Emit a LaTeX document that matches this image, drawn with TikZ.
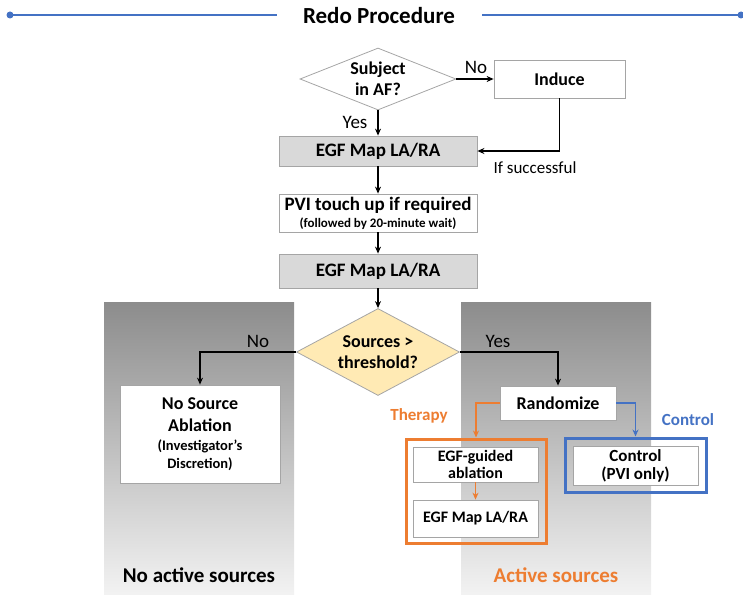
\documentclass[tikz,border=0pt]{standalone}
\usepackage{fontspec}
\setmainfont{Carlito}
\usetikzlibrary{shapes.geometric,arrows.meta}
\definecolor{lineblue}{RGB}{68,114,196}
\definecolor{myorange}{RGB}{237,125,49}
\definecolor{myyellow}{RGB}{255,234,180}
\definecolor{boxgray}{RGB}{217,217,217}
\definecolor{bordergray}{RGB}{165,165,165}
\tikzset{
  box/.style={draw=bordergray, line width=0.8pt, fill=white, align=center, inner sep=2pt, font=\fontsize{18}{21}\selectfont\bfseries},
  graybox/.style={box, fill=boxgray, font=\fontsize{19}{22}\selectfont\bfseries},
  decision/.style={diamond, draw=bordergray, line width=0.8pt, align=center, inner sep=0pt, font=\fontsize{18}{21}\selectfont\bfseries},
  arr/.style={-{Stealth[length=7pt,width=6pt]}, line width=1.1pt, black},
  oarr/.style={-{Stealth[length=7pt,width=6pt]}, line width=1.1pt, myorange},
  barr/.style={-{Stealth[length=7pt,width=6pt]}, line width=1.1pt, lineblue},
  lbl/.style={font=\fontsize{19}{22}\selectfont},
  panel/.style={top color=black!45, bottom color=black!5},
  frame/.style={draw, line width=3pt, inner sep=0pt},
}
\begin{document}
\begin{tikzpicture}[x=1pt,y=-1pt]
\useasboundingbox (0,0) rectangle (743,594);
% title
\node[font=\fontsize{23}{27}\selectfont\bfseries] (title) at (379,16) {Redo Procedure};
\coordinate (tl) at (10,15);
\coordinate (tr) at (741,15);
\fill[lineblue] (tl) circle (3.5pt);
\fill[lineblue] (tr) circle (3.5pt);
\draw[lineblue, line width=2.2pt] (tl) -- (277,15);
\draw[lineblue, line width=2.2pt] (482,15) -- (tr);
% panels
\fill[panel] (104,302) rectangle (294,594);
\fill[panel] (461,302) rectangle (651,594);
% top part
\node[decision, minimum width=156pt, minimum height=62pt, aspect=2.5] (d1) at (378,79) {Subject\\in AF?};
\node[box, minimum width=131pt, minimum height=38pt] (induce) at (559.5,79) {Induce};
\node[graybox, minimum width=198pt, minimum height=30pt] (egf1) at (378,151) {EGF Map LA/RA};
\node[box, minimum width=198pt, minimum height=38pt, font=\fontsize{19}{19}\selectfont\bfseries] (pvi) at (378,213)
  {PVI touch up if required\\[-2pt]{\fontsize{13}{13}\selectfont (followed by 20-minute wait)}};
\node[graybox, minimum width=198pt, minimum height=34pt] (egf2) at (378,271) {EGF Map LA/RA};
\node[decision, fill=myyellow, minimum width=163pt, minimum height=87pt, aspect=1.87] (d2) at (378,352) {Sources >\\threshold?};
\node[box, minimum width=160pt, minimum height=98pt, font=\fontsize{18}{22}\selectfont\bfseries] (nosrc) at (200,434)
  {No Source\\Ablation\\[-3pt]{\fontsize{14.5}{17}\selectfont (Investigator’s}\\[-4pt]{\fontsize{14.5}{17}\selectfont Discretion)}};
\node[box, minimum width=116pt, minimum height=34pt] (rand) at (558,403) {Randomize};
\node[frame, draw=myorange, minimum width=140pt, minimum height=104pt] (tframe) at (476,491) {};
\node[box, minimum width=125pt, minimum height=35pt, font=\fontsize{16}{17}\selectfont\bfseries] (egfg) at (475.5,464.5) {EGF-guided\\ablation};
\node[box, minimum width=125pt, minimum height=37pt, font=\fontsize{16}{18}\selectfont\bfseries] (egf3) at (475.5,518.5) {EGF Map LA/RA};
\node[frame, draw=lineblue, minimum width=141pt, minimum height=54pt] (cframe) at (635.5,465) {};
\node[box, minimum width=125pt, minimum height=39pt, font=\fontsize{17}{18}\selectfont\bfseries] (ctrl) at (635.5,465.5) {Control\\(PVI only)};
% connectors
\draw[arr] (d1.east) -- (induce.west);
\node[lbl] (no1) at (476,67) {No};
\draw[arr] (d1.south) -- (egf1.north);
\node[lbl] (yes1) at (355,122) {Yes};
\draw[arr] (induce.south) |- (egf1.east);
\node[font=\fontsize{17}{20}\selectfont] (succ) at (535,168) {If successful};
\draw[arr] (egf1.south) -- (pvi.north);
\draw[arr] (pvi.south) -- (egf2.north);
\draw[arr] (egf2.south) -- (d2.north);
\draw[arr] (d2.west) -| (nosrc.north);
\node[lbl] (no2) at (258,341) {No};
\draw[arr] (d2.east) -| (rand.north);
\node[lbl] (yes2) at (498,341) {Yes};
\draw[oarr] (rand.west) -| (tframe.north);
\draw[barr] (rand.east) -| (cframe.north);
\draw[oarr] (egfg.south) -- (egf3.north);
\node[font=\fontsize{17}{20}\selectfont\bfseries, text=myorange] (ther) at (419,416) {Therapy};
\node[font=\fontsize{17}{20}\selectfont\bfseries, text=lineblue] (ctl) at (688,420) {Control};
\node[font=\fontsize{21}{24}\selectfont\bfseries] (nas) at (199,575) {No active sources};
\node[font=\fontsize{21}{24}\selectfont\bfseries, text=myorange] (as) at (556,575) {Active sources};
\end{tikzpicture}
\end{document}
